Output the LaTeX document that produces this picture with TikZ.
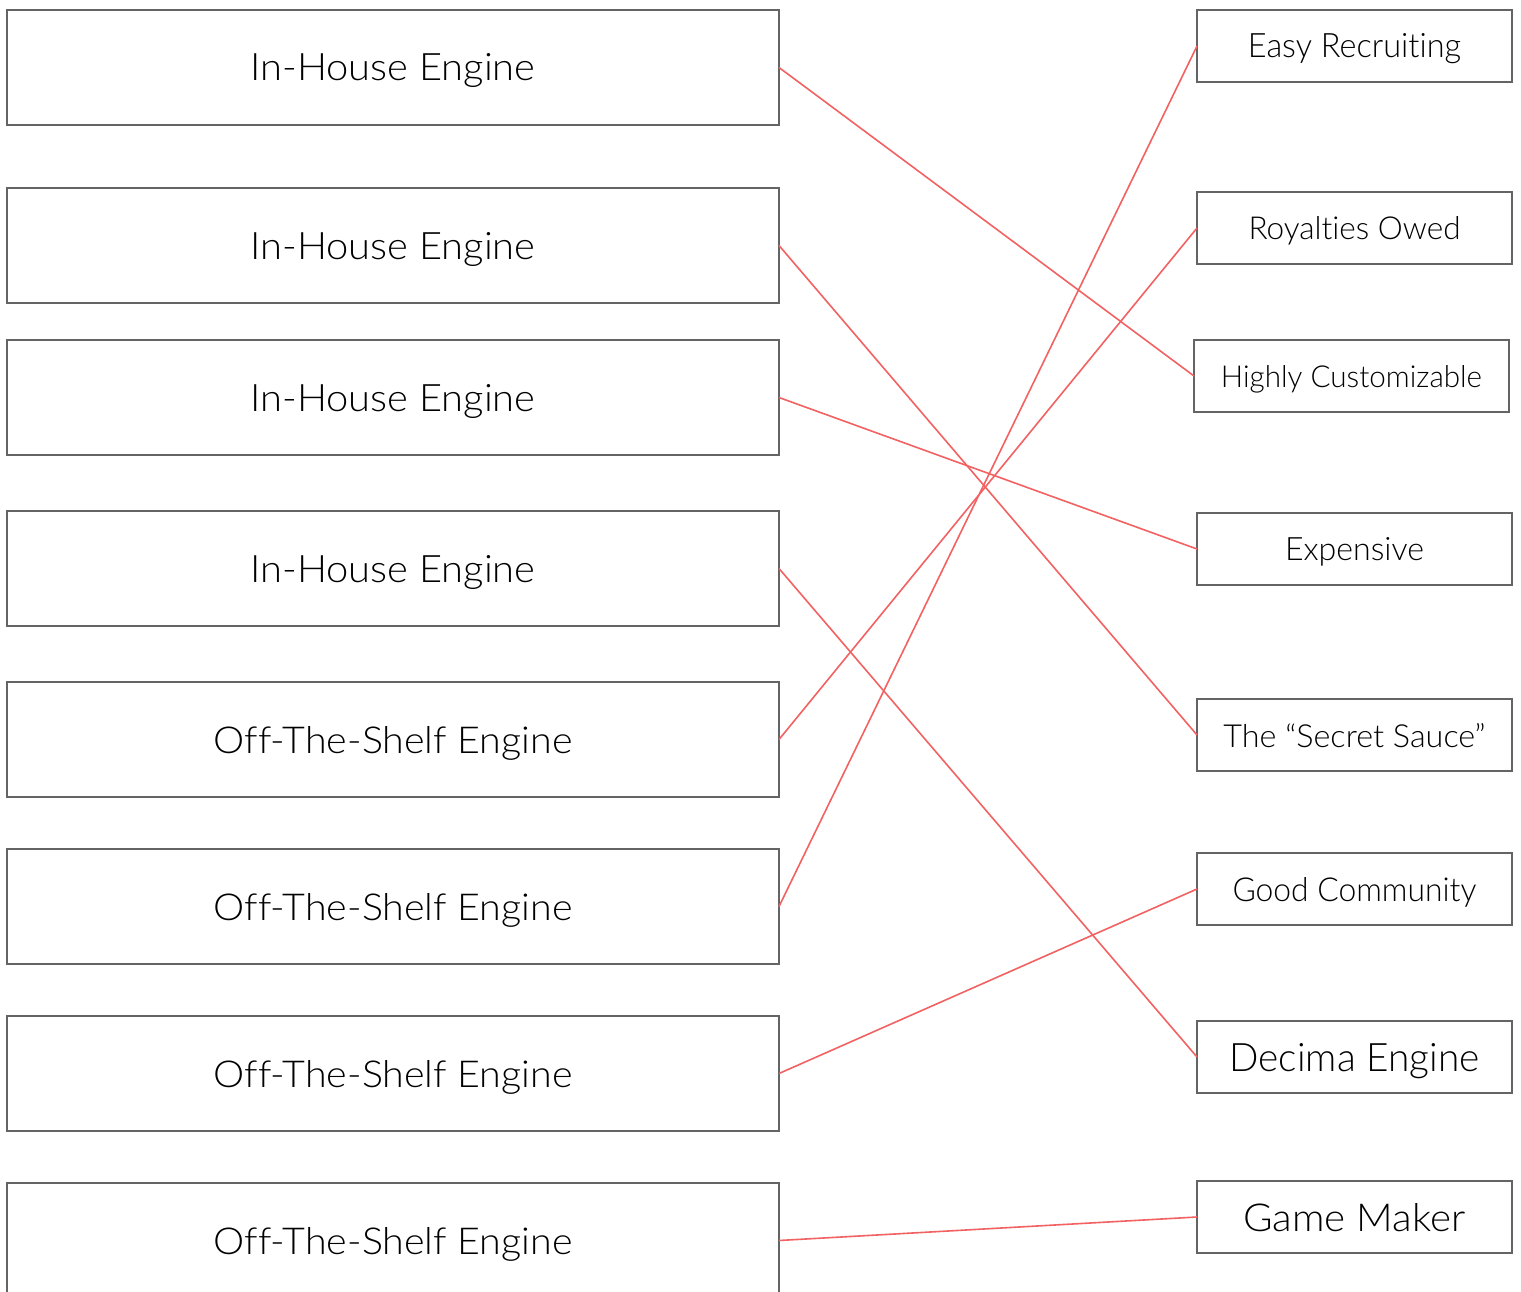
\documentclass[tikz,border=0pt]{standalone}
\usepackage{fontspec}
\setmainfont{Lato}[UprightFont={* Light}, Ligatures={NoCommon}]
\usepackage{graphicx}
\definecolor{boxgray}{HTML}{646464}
\definecolor{linkred}{HTML}{F26262}
\newcommand{\fitlabel}[3]{\resizebox{#1pt}{#2pt}{#3}}
\tikzset{
  lbox/.style={draw=boxgray, line width=1.7pt, rectangle, inner sep=0pt, outer sep=0pt,
    minimum width=772pt, minimum height=115pt, text depth=0pt, fill=white},
  rbox/.style={draw=boxgray, line width=1.7pt, rectangle, inner sep=0pt, outer sep=0pt,
    minimum width=315pt, minimum height=72pt, text depth=0pt, fill=white},
  link/.style={draw=linkred, line width=1.6pt}
}
\begin{document}
\begin{tikzpicture}[x=1pt,y=-1pt]
\useasboundingbox (0,0) rectangle (1521,1292);
\fill[white] (0,0) rectangle (1521,1292);
% left boxes
\node[lbox] (l1) at (393,67.5)   {\fitlabel{285}{27}{In-House Engine}};
\node[lbox] (l2) at (393,245.5)  {\fitlabel{285}{27}{In-House Engine}};
\node[lbox] (l3) at (393,397.5)  {\fitlabel{285}{27}{In-House Engine}};
\node[lbox] (l4) at (393,568.5)  {\fitlabel{285}{27}{In-House Engine}};
\node[lbox] (l5) at (393,739.5)  {\fitlabel{359}{27}{Off-The-Shelf Engine}};
\node[lbox] (l6) at (393,906.5)  {\fitlabel{359}{27}{Off-The-Shelf Engine}};
\node[lbox] (l7) at (393,1073.5) {\fitlabel{359}{27}{Off-The-Shelf Engine}};
\node[lbox] (l8) at (393,1240.5) {\fitlabel{359}{27}{Off-The-Shelf Engine}};
% right boxes
\node[rbox] (r1) at (1354.5,46)   {\fitlabel{213}{24}{Easy Recruiting}};
\node[rbox] (r2) at (1354.5,228)  {\fitlabel{212}{23}{Royalties Owed}};
\node[rbox] (r3) at (1351.5,376)  {\fitlabel{261}{22}{Highly Customizable}};
\node[rbox] (r4) at (1354.5,549)  {\fitlabel{139}{23}{Expensive}};
\node[rbox] (r5) at (1354.5,735)  {\fitlabel{262}{24}{The “Secret Sauce”}};
\node[rbox] (r6) at (1354.5,889)  {\fitlabel{244}{24}{Good Community}};
\node[rbox] (r7) at (1354.5,1057) {\fitlabel{250}{28}{Decima Engine}};
\node[rbox] (r8) at (1354.5,1217) {\fitlabel{222}{28}{Game Maker}};
% connectors
\draw[link] (l1.east) -- (r3.west);
\draw[link] (l2.east) -- (r5.west);
\draw[link] (l3.east) -- (r4.west);
\draw[link] (l4.east) -- (r7.west);
\draw[link] (l5.east) -- (r2.west);
\draw[link] (l6.east) -- (r1.west);
\draw[link] (l7.east) -- (r6.west);
\draw[link] (l8.east) -- (r8.west);
\end{tikzpicture}
\end{document}
